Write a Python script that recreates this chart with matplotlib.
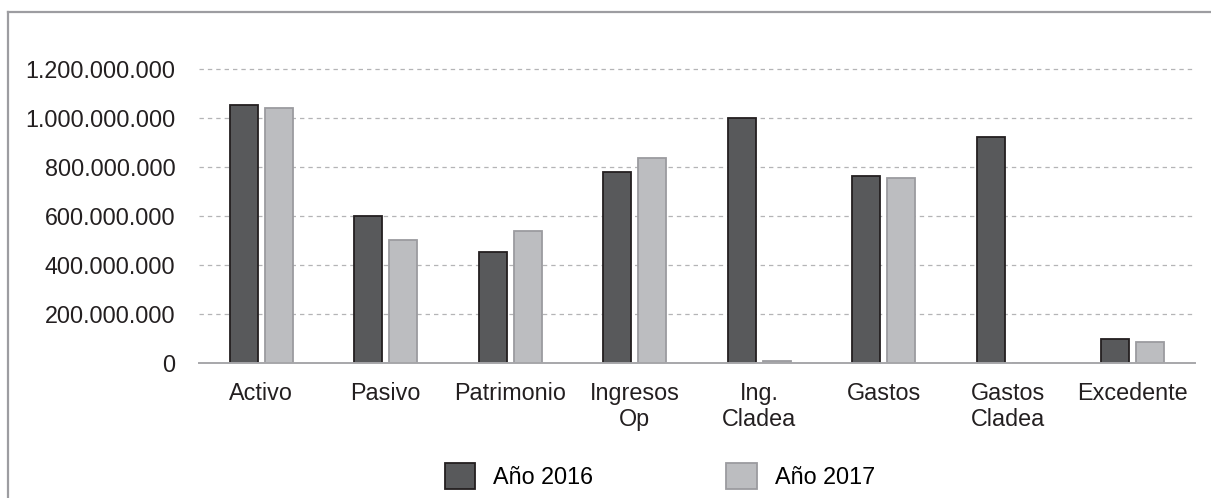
#
# Bar chart Año 2016 / Año 2017
#
import numpy as np
import matplotlib
matplotlib.use('Agg')
import matplotlib.pyplot as plt
from matplotlib.patches import Patch
from matplotlib.lines import Line2D
from matplotlib.ticker import FuncFormatter

plt.rcParams['font.family'] = ['Liberation Sans', 'DejaVu Sans']
plt.rcParams['font.size'] = 16.8

#
# Data
#
categorias = ['Activo', 'Pasivo', 'Patrimonio', 'Ingresos\nOp', 'Ing.\nCladea',
              'Gastos', 'Gastos\nCladea', 'Excedente']
anio2016 = [1053e6, 600e6, 453e6, 779e6, 1001e6, 763e6, 924e6, 97e6]
anio2017 = [1042e6, 502e6, 540e6, 838e6, 10e6, 755e6, 0, 86e6]
series = ['Año 2016', 'Año 2017']

dark = '#58595b'
dark_edge = '#231f20'
light = '#bcbdc0'
light_edge = '#9b9b9f'

fig = plt.figure(figsize=(12.11, 4.98), dpi=100, facecolor='w')
ax = fig.add_axes([199/1211, 1-363/498, (1195-199)/1211, 0.6199])

x = np.arange(len(categorias))
w = 0.225
off = 0.14
ax.bar(x - off, anio2016, w, color=dark, edgecolor=dark_edge, linewidth=1.3, zorder=3)
ax.bar(x + off, anio2017, w, color=light, edgecolor=light_edge, linewidth=1.3, zorder=3)

ax.set_xlim(-0.5, len(categorias) - 0.5)
ax.set_ylim(0, 1.26e9)
ax.set_yticks(np.arange(0, 1.2e9 + 1, 2e8))
ax.yaxis.set_major_formatter(FuncFormatter(lambda v, p: '{:,.0f}'.format(v).replace(',', '.')))
ax.set_xticks(x)
ax.set_xticklabels(categorias, linespacing=1.2)
ax.tick_params(axis='y', length=0, pad=17, colors='#231f20')
ax.tick_params(axis='x', length=0, pad=13.5, colors='#231f20')

ax.yaxis.grid(True, color='#b4b4b6', linestyle=(0, (3.5, 3.2)), linewidth=0.9, zorder=0)
ax.set_axisbelow(True)
for s in ['top', 'right', 'left']:
    ax.spines[s].set_visible(False)
ax.spines['bottom'].set_color('#a7a7aa')
ax.spines['bottom'].set_linewidth(1.4)
ax.spines['bottom'].set_zorder(4)

handles = [Patch(facecolor=dark, edgecolor=dark_edge, linewidth=1.3),
           Patch(facecolor=light, edgecolor=light_edge, linewidth=1.3)]
fig.legend(handles, series, loc='center', bbox_to_anchor=(660/1211, 1-476/498),
           ncol=2, frameon=False, handlelength=1.29, handleheight=1.29,
           handletextpad=0.8, columnspacing=5.7)

# outer frame (top and left edges visible)
fig.add_artist(Line2D([8/1211, 8/1211], [0, 1-12/498], color='#9d9da1', linewidth=1.6))
fig.add_artist(Line2D([8/1211, 1], [1-12/498, 1-12/498], color='#9d9da1', linewidth=1.6))

savefig_kw = dict(dpi=100, facecolor='w')
fig.savefig('out.png', **savefig_kw)
